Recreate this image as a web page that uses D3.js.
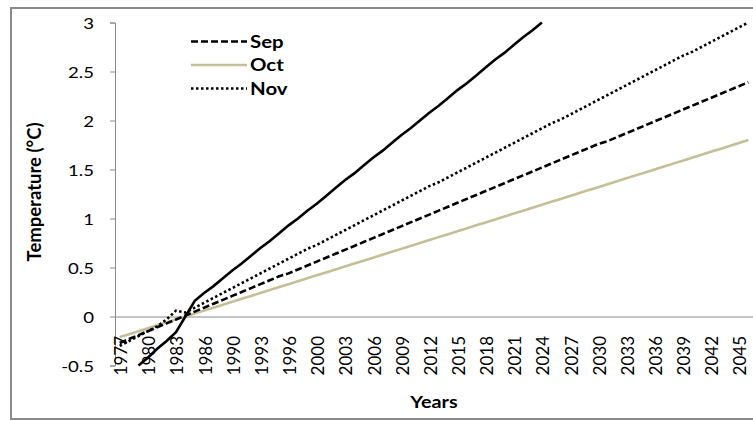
<!DOCTYPE html>
<html>
<head>
<meta charset="utf-8">
<script src="https://cdn.jsdelivr.net/npm/d3@7"></script>
<style>
  html, body { margin: 0; padding: 0; background: #fff; }
  svg { display: block; }
  text { font-family: Lato, "Open Sans", sans-serif; fill: #000; }
</style>
</head>
<body>
<svg id="chart" width="753" height="421"></svg>
<script>
// ---- data ----
const years = [1977,1978,1979,1980,1981,1982,1983,1984,1985,1986,
  1988,1989,1990,1991,1992,1993,1994,1995,1996,
  1998,1999,2000,2001,2002,2003,2004,2005,2006,2007,2008,2009,2010,
  2011,2012,2013,2014,2015,2016,2017,2018,2019,2020,2021,2022,2023,2024,
  2025,2026,2027,2028,2029,2030,2031,2032,2033,2034,2035,2036,2037,2038,
  2039,2040,2041,2042,2043,2044,2045,2046];

const tickLabels = [1977,1980,1983,1986,1990,1993,1996,2000,2003,2006,2009,
  2012,2015,2018,2021,2024,2027,2030,2033,2036,2039,2042,2045];

const yTicks = [-0.5, 0, 0.5, 1, 1.5, 2, 2.5, 3];

const seriesNames = ["Sep", "Oct", "Nov"];

const solidValues = [null,null,-0.50,-0.42,-0.33,-0.25,-0.16,0.00,0.16,0.24,
  0.31,0.39,0.47,0.54,0.62,0.70,0.77,0.85,0.93,1.00,
  1.08,1.15,1.23,1.31,1.39,1.46,1.54,1.62,1.69,1.77,
  1.85,1.92,2.00,2.08,2.15,2.23,2.31,2.38,2.46,2.54,
  2.62,2.69,2.77,2.85,2.92,3.00,null,null,null,null,
  null,null,null,null,null,null,null,null,null,null,
  null,null,null,null,null,null,null,null];

const sepValues = [-0.27,-0.23,-0.19,-0.15,-0.11,-0.07,-0.03,0.01,0.05,0.09,
  0.13,0.17,0.21,0.25,0.29,0.33,0.37,0.41,0.44,0.48,
  0.52,0.56,0.60,0.64,0.68,0.72,0.76,0.80,0.84,0.88,
  0.92,0.96,1.00,1.04,1.08,1.12,1.16,1.20,1.24,1.28,
  1.32,1.36,1.40,1.44,1.48,1.52,1.56,1.60,1.64,1.68,
  1.72,1.76,1.79,1.83,1.87,1.91,1.95,1.99,2.03,2.07,
  2.11,2.15,2.19,2.23,2.27,2.31,2.35,2.39];

const octValues = [-0.21,-0.18,-0.15,-0.12,-0.09,-0.06,-0.03,0.00,0.03,0.06,
  0.09,0.12,0.15,0.18,0.21,0.24,0.27,0.30,0.33,0.36,
  0.39,0.42,0.45,0.48,0.51,0.54,0.57,0.60,0.63,0.66,
  0.69,0.72,0.75,0.78,0.81,0.84,0.87,0.90,0.93,0.96,
  0.99,1.02,1.05,1.08,1.11,1.14,1.17,1.20,1.23,1.26,
  1.29,1.32,1.35,1.38,1.41,1.44,1.47,1.50,1.53,1.56,
  1.59,1.62,1.65,1.68,1.71,1.74,1.77,1.80];

const novValues = [-0.30,-0.25,-0.20,-0.15,-0.10,-0.03,0.06,0.04,0.09,0.14,
  0.19,0.24,0.29,0.34,0.39,0.44,0.49,0.54,0.59,0.64,
  0.69,0.73,0.78,0.83,0.88,0.93,0.98,1.03,1.08,1.13,
  1.18,1.23,1.28,1.33,1.37,1.42,1.47,1.52,1.57,1.62,
  1.67,1.72,1.77,1.82,1.87,1.92,1.97,2.01,2.06,2.11,
  2.16,2.21,2.26,2.31,2.36,2.41,2.46,2.51,2.56,2.61,
  2.66,2.70,2.75,2.80,2.85,2.90,2.95,3.00];

// ---- layout ----
const SX = 1.2; // horizontal stretch of text seen in the reference
const plot = { left: 115, right: 753, top: 22.5, bottom: 365.5 };

const svg = d3.select("#chart");

// frame
svg.append("rect")
  .attr("x", 11).attr("y", 8).attr("width", 760).attr("height", 411)
  .attr("fill", "#fff").attr("stroke", "#8a8a8a").attr("stroke-width", 2);

const x = d3.scaleBand().domain(years).range([plot.left, plot.right]).padding(0);
const xc = yr => x(yr) + x.bandwidth() / 2;
const y = d3.scaleLinear().domain([-0.5, 3]).range([plot.bottom, plot.top]);

// y axis
const yAxis = d3.axisLeft(y).tickValues(yTicks).tickSize(5).tickFormat(d3.format("~g"));
const gy = svg.append("g").attr("transform", `translate(${plot.left},0)`).call(yAxis);
gy.select(".domain").attr("stroke", "#8a8a8a");
gy.selectAll(".tick line").attr("stroke", "#8a8a8a");
gy.selectAll(".tick text").remove();
gy.selectAll(".tick").append("text")
  .attr("text-anchor", "end")
  .attr("dy", "0.36em")
  .attr("transform", `translate(-21,0) scale(${SX},1)`)
  .style("font-size", "15.5px")
  .text(d => d3.format("~g")(d).replace("−", "-"));

// x axis line at y = 0
const xAxis = d3.axisBottom(x).tickSize(0).tickFormat("");
const gx = svg.append("g").attr("transform", `translate(0,${y(0)})`).call(xAxis);
gx.select(".domain").attr("stroke", "#8a8a8a");

// x tick labels (rotated, at the bottom)
svg.append("g").selectAll("text").data(tickLabels).join("text")
  .attr("transform", d => `translate(${xc(d) + 7.5},336) scale(1.05,1) rotate(-90)`)
  .attr("text-anchor", "end")
  .style("font-size", "17px")
  .text(d => d);

// series
const line = d3.line()
  .defined(d => d.v != null)
  .x(d => xc(d.yr))
  .y(d => y(d.v));

const toPts = vals => years.map((yr, i) => ({ yr, v: vals[i] }));

const styles = {
  Sep: { stroke: "#000", dash: "7,3", width: 2.6 },
  Oct: { stroke: "#c6be97", dash: null, width: 2.6 },
  Nov: { stroke: "#000", dash: "2.5,2.5", width: 2.6 }
};

const seriesData = [
  { name: "Oct", vals: octValues },
  { name: "Sep", vals: sepValues },
  { name: "Nov", vals: novValues }
];

seriesData.forEach(s => {
  const st = styles[s.name];
  svg.append("path")
    .datum(toPts(s.vals))
    .attr("fill", "none")
    .attr("stroke", st.stroke)
    .attr("stroke-width", st.width)
    .attr("stroke-dasharray", st.dash)
    .attr("d", line);
});

svg.append("path")
  .datum(toPts(solidValues))
  .attr("fill", "none")
  .attr("stroke", "#000")
  .attr("stroke-width", 2.6)
  .attr("d", line);

// legend
const legY = [41.5, 65, 88.5];
const leg = svg.append("g");
seriesNames.forEach((n, i) => {
  const st = styles[n];
  leg.append("line")
    .attr("x1", 191).attr("x2", 247)
    .attr("y1", legY[i]).attr("y2", legY[i])
    .attr("stroke", st.stroke).attr("stroke-width", st.width)
    .attr("stroke-dasharray", st.dash);
  leg.append("text")
    .attr("transform", `translate(250,${legY[i] + 6}) scale(${SX},1)`)
    .style("font-size", "17px").style("font-weight", "bold")
    .text(n);
});

// axis titles
svg.append("text")
  .attr("transform", `translate(434,408) scale(${SX},1)`)
  .attr("text-anchor", "middle")
  .style("font-size", "16.5px").style("font-weight", "bold")
  .text("Years");

svg.append("text")
  .attr("transform", `translate(41,192) scale(1.05,1) rotate(-90)`)
  .attr("text-anchor", "middle")
  .style("font-size", "18.5px").style("font-weight", "bold")
  .text("Temperature (°C)");
</script>
</body>
</html>
